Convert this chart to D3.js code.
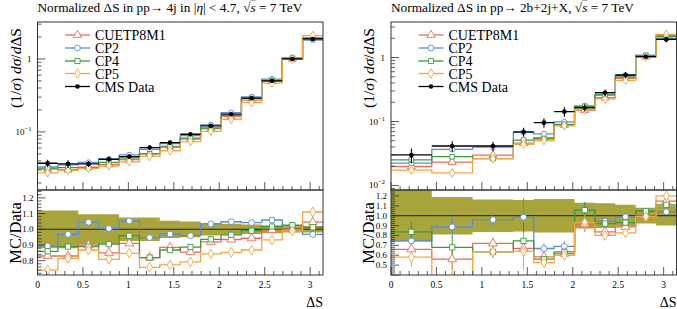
<!DOCTYPE html>
<html><head><meta charset="utf-8">
<script src="https://cdn.jsdelivr.net/npm/d3@7"></script>
<style>
body{margin:0;background:#fff}
text{font-family:"Liberation Serif","DejaVu Serif",serif;fill:#000}
</style>
</head><body>
<svg id="chart" width="677" height="309"></svg>
<script>
// bin edges in Delta S
const edgesL = [0, 0.224, 0.449, 0.673, 0.898, 1.122, 1.346, 1.571, 1.795, 2.020, 2.244, 2.468, 2.693, 2.917, 3.1416];
const edgesR = [0, 0.449, 0.898, 1.346, 1.571, 1.795, 2.020, 2.244, 2.468, 2.693, 2.917, 3.1416];

// CMS data (1/sigma dsigma/dDeltaS) and relative data uncertainty
const dataL = [0.0372, 0.0365, 0.0365, 0.0422, 0.046, 0.061, 0.0714, 0.093, 0.121, 0.175, 0.29, 0.50, 1.0, 1.88];
const bandL = [0.12, 0.12, 0.095, 0.095, 0.075, 0.075, 0.055, 0.05, 0.04, 0.035, 0.03, 0.025, 0.02, 0.02];
const dataR = [0.030, 0.0414, 0.0414, 0.0686, 0.096, 0.1426, 0.164, 0.282, 0.533, 1.03, 1.92];
const bandR = [0.26, 0.19, 0.165, 0.16, 0.17, 0.17, 0.13, 0.125, 0.11, 0.08, 0.10];

// MC / Data ratios
const cuetpL = [0.83, 0.83, 0.90, 0.85, 0.91, 0.82, 0.885, 0.855, 0.92, 0.935, 0.943, 0.995, 1.0, 1.045];
const cp2L   = [0.894, 0.968, 1.045, 1.005, 1.053, 0.947, 0.97, 0.959, 1.034, 1.048, 1.042, 1.059, 1.023, 0.968];
const cp4L   = [0.86, 0.89, 0.89, 0.905, 0.959, 0.82, 0.868, 0.887, 0.936, 0.965, 0.991, 1.017, 1.027, 1.013];
const cp5L   = [0.74, 0.815, 0.868, 0.809, 0.847, 0.758, 0.773, 0.792, 0.843, 0.853, 0.868, 0.932, 0.99, 1.11];

const cuetpR = [0.66, 0.56, 0.72, 0.67, 0.583, 0.617, 0.914, 0.836, 0.887, 0.998, 1.147];
const cp2R   = [0.745, 0.887, 0.96, 0.985, 0.668, 0.69, 1.056, 0.945, 0.988, 1.045, 1.04];
const cp4R   = [0.836, 0.68, 0.634, 0.745, 0.56, 0.634, 1.056, 0.92, 0.93, 1.045, 1.11];
const cp5R   = [0.58, 0.38, 0.635, 0.64, 0.526, 0.6, 0.93, 0.80, 0.826, 0.99, 1.2];
const mcErrR = [0.1, 0.11, 0.06, 0.19, 0.05, 0.05, 0.08, 0.04, 0.04, 0.03, 0.03];

const names = ["CUETP8M1", "CP2", "CP4", "CP5"];
const colors = ["#e4705a", "#5a8ad8", "#3c9a3c", "#f4a640"];
const symbols = [d3.symbolTriangle, d3.symbolCircle, d3.symbolSquare, d3.symbolDiamond];
const xTicks = [0, 0.5, 1, 1.5, 2, 2.5, 3];

const svg = d3.select("#chart");
const yTop = 22, yMid = 190, yBot = 275, W = 285.5;

function panel(o, idx) {
  const x = d3.scaleLinear().domain([0, Math.PI]).range([o.x0, o.x0 + W]);
  const yT = d3.scaleLog().domain(o.topDomain).range([yMid, yTop]);
  const yR = d3.scaleLinear().domain(o.ratioDomain).range([yBot, yMid]);
  const g = svg.append("g");

  const defs = svg.append("defs");
  defs.append("clipPath").attr("id", "ct" + idx).append("rect")
    .attr("x", o.x0).attr("y", yTop).attr("width", W).attr("height", yMid - yTop);
  defs.append("clipPath").attr("id", "cr" + idx).append("rect")
    .attr("x", o.x0).attr("y", yMid).attr("width", W).attr("height", yBot - yMid);

  const n = o.data.length;
  const step = (vals, y) => d3.line().curve(d3.curveStepAfter)
    .x(d => x(d[0])).y(d => y(d[1]))(o.edges.map((e, i) => [e, vals[Math.min(i, n - 1)]]));
  const centers = o.data.map((_, i) => (o.edges[i] + o.edges[i + 1]) / 2);

  // ---- top panel
  const gt = g.append("g").attr("clip-path", `url(#ct${idx})`);
  o.ratios.forEach((r, s) => {
    const mc = r.map((v, i) => v * o.data[i]);
    gt.append("path").attr("d", step(mc, yT)).attr("fill", "none")
      .attr("stroke", colors[s]).attr("stroke-width", 1.3);
  });
  o.ratios.forEach((r, s) => {
    gt.selectAll(null).data(r).join("path")
      .attr("transform", (v, i) => `translate(${x(centers[i])},${yT(v * o.data[i])})`)
      .attr("d", d3.symbol().type(symbols[s]).size(s === 0 ? 28 : 22))
      .attr("fill", "#fff").attr("stroke", colors[s]).attr("stroke-width", 0.9);
  });
  // data
  o.data.forEach((v, i) => {
    gt.append("line").attr("x1", x(o.edges[i])).attr("x2", x(o.edges[i + 1]))
      .attr("y1", yT(v)).attr("y2", yT(v)).attr("stroke", "#000").attr("stroke-width", 1.3);
    gt.append("line").attr("x1", x(centers[i])).attr("x2", x(centers[i]))
      .attr("y1", yT(v * (1 - o.band[i]))).attr("y2", yT(v * (1 + o.band[i])))
      .attr("stroke", "#000").attr("stroke-width", 1.1);
    gt.append("circle").attr("cx", x(centers[i])).attr("cy", yT(v)).attr("r", 2.3).attr("fill", "#000");
  });

  // ---- ratio panel
  const gr = g.append("g").attr("clip-path", `url(#cr${idx})`);
  const bandPts = o.edges.map((e, i) => [e, o.band[Math.min(i, n - 1)]]);
  gr.append("path").attr("fill", "#a7a53c")
    .attr("d", d3.area().curve(d3.curveStepAfter).x(d => x(d[0]))
      .y0(d => yR(1 - d[1])).y1(d => yR(1 + d[1]))(bandPts));
  gr.append("line").attr("x1", o.x0).attr("x2", o.x0 + W).attr("y1", yR(1)).attr("y2", yR(1))
    .attr("stroke", "#222").attr("stroke-width", 1);
  o.ratios.forEach((r, s) => {
    gr.append("path").attr("d", step(r, yR)).attr("fill", "none")
      .attr("stroke", colors[s]).attr("stroke-width", 1.3);
    if (o.mcErr) {
      r.forEach((v, i) => {
        gr.append("line").attr("x1", x(centers[i])).attr("x2", x(centers[i]))
          .attr("y1", yR(v - o.mcErr[i])).attr("y2", yR(v + o.mcErr[i]))
          .attr("stroke", colors[s]).attr("stroke-width", 1);
      });
    }
  });
  o.ratios.forEach((r, s) => {
    gr.selectAll(null).data(r).join("path")
      .attr("transform", (v, i) => `translate(${x(centers[i])},${yR(v)})`)
      .attr("d", d3.symbol().type(symbols[s]).size(s === 0 ? 34 : 28))
      .attr("fill", "#fff").attr("stroke", colors[s]).attr("stroke-width", 0.9);
  });

  // ---- frames
  [[yTop, yMid], [yMid, yBot]].forEach(([a, b]) => {
    g.append("rect").attr("x", o.x0).attr("y", a).attr("width", W).attr("height", b - a)
      .attr("fill", "none").attr("stroke", "#333").attr("stroke-width", 1);
  });

  // x ticks (inside, pointing up) on bottom of both panels
  const minorX = d3.range(0, 3.15, 0.1);
  [yMid, yBot].forEach(yb => {
    minorX.forEach(t => {
      const major = Math.abs(t * 2 - Math.round(t * 2)) < 1e-6;
      g.append("line").attr("x1", x(t)).attr("x2", x(t)).attr("y1", yb).attr("y2", yb - (major ? 8 : 4))
        .attr("stroke", "#333").attr("stroke-width", 0.8);
    });
  });
  g.selectAll(null).data(xTicks).join("text")
    .attr("x", d => x(d)).attr("y", 288).attr("text-anchor", "middle")
    .attr("font-size", 9.5).text(d => d);
  g.append("text").attr("x", o.x0 + W).attr("y", 307).attr("text-anchor", "end")
    .attr("font-size", 14).text("ΔS");

  // log y ticks
  const [lo, hi] = o.topDomain;
  for (let k = Math.floor(Math.log10(lo)); k <= Math.ceil(Math.log10(hi)); k++) {
    for (let m = 1; m <= 9; m++) {
      const v = m * Math.pow(10, k);
      if (v < lo || v > hi) continue;
      g.append("line").attr("x1", o.x0).attr("x2", o.x0 + (m === 1 ? 8 : 4))
        .attr("y1", yT(v)).attr("y2", yT(v)).attr("stroke", "#333").attr("stroke-width", 0.8);
      if (m === 1) {
        const t = g.append("text").attr("x", o.x0 - 6).attr("y", yT(v) + 3)
          .attr("text-anchor", "end").attr("font-size", 9);
        if (k === 0) t.text("1");
        else {
          t.append("tspan").text("10");
          t.append("tspan").attr("dy", -4).attr("font-size", 6.5).text("−" + (-k));
        }
      }
    }
  }

  // ratio y ticks
  const rMinor = d3.range(Math.ceil(o.ratioDomain[0] * 50) / 50, o.ratioDomain[1], 0.02);
  rMinor.forEach(v => {
    const major = Math.abs(v * 10 - Math.round(v * 10)) < 1e-6;
    g.append("line").attr("x1", o.x0).attr("x2", o.x0 + (major ? 8 : 4))
      .attr("y1", yR(v)).attr("y2", yR(v)).attr("stroke", "#333").attr("stroke-width", 0.8);
  });
  g.selectAll(null).data(o.ratioTicks).join("text")
    .attr("x", o.x0 - 4).attr("y", d => yR(d) + 3).attr("text-anchor", "end")
    .attr("font-size", 9).text(d => d.toFixed(1));

  // axis labels
  const yl = g.append("text").attr("transform", `translate(${o.x0 - 17},68) rotate(-90)`)
    .attr("text-anchor", "middle").attr("font-size", 15.5);
  yl.append("tspan").text("(1/");
  yl.append("tspan").attr("font-style", "italic").text("σ");
  yl.append("tspan").text(") ");
  yl.append("tspan").attr("font-style", "italic").text("dσ");
  yl.append("tspan").text("/");
  yl.append("tspan").attr("font-style", "italic").text("d");
  yl.append("tspan").text("ΔS");
  g.append("text").attr("transform", `translate(${o.x0 - 17},233) rotate(-90)`)
    .attr("text-anchor", "middle").attr("font-size", 16.5).text("MC/Data");

  // title
  const tt = g.append("text").attr("x", o.x0).attr("y", 12).attr("font-size", 13.3);
  o.title(tt);

  // legend
  const lx = o.x0 + 27.5;
  const rows = [35, 48, 61, 73.5, 86.5];
  names.forEach((nm, s) => {
    g.append("line").attr("x1", lx).attr("x2", lx + 25).attr("y1", rows[s]).attr("y2", rows[s])
      .attr("stroke", colors[s]).attr("stroke-width", 1.3);
    g.append("path").attr("transform", `translate(${lx + 12.5},${rows[s]})`)
      .attr("d", d3.symbol().type(symbols[s]).size(s === 0 ? 30 : 26))
      .attr("fill", "#fff").attr("stroke", colors[s]).attr("stroke-width", 0.9);
    g.append("text").attr("x", lx + 30).attr("y", rows[s] + 5).attr("font-size", 14).text(nm);
  });
  g.append("line").attr("x1", lx).attr("x2", lx + 25).attr("y1", rows[4]).attr("y2", rows[4])
    .attr("stroke", "#000").attr("stroke-width", 1.3);
  g.append("circle").attr("cx", lx + 12.5).attr("cy", rows[4]).attr("r", 2.3).attr("fill", "#000");
  g.append("text").attr("x", lx + 30).attr("y", rows[4] + 5).attr("font-size", 14).text("CMS Data");
}

function sqrtS(t) {
  t.append("tspan").text("√");
  t.append("tspan").attr("font-style", "italic").style("text-decoration", "overline").text("s");
  t.append("tspan").text(" = 7 TeV");
}

panel({
  x0: 37.5, edges: edgesL, data: dataL, band: bandL,
  ratios: [cuetpL, cp2L, cp4L, cp5L],
  topDomain: [0.016, 3.21], ratioDomain: [0.709, 1.25],
  ratioTicks: [0.8, 0.9, 1.0, 1.1, 1.2],
  title: t => {
    t.append("tspan").text("Normalized ΔS in pp→ 4j in |");
    t.append("tspan").attr("font-style", "italic").text("η");
    t.append("tspan").text("| < 4.7, ");
    sqrtS(t);
  }
}, 0);

panel({
  x0: 391, edges: edgesR, data: dataR, band: bandR,
  ratios: [cuetpR, cp2R, cp4R, cp5R], mcErr: mcErrR,
  topDomain: [0.0085, 3.59], ratioDomain: [0.40, 1.26],
  ratioTicks: [0.5, 0.6, 0.7, 0.8, 0.9, 1.0, 1.1, 1.2],
  title: t => {
    t.append("tspan").text("Normalized ΔS in pp→ 2b+2j+X, ");
    sqrtS(t);
  }
}, 1);
</script>
</body></html>
